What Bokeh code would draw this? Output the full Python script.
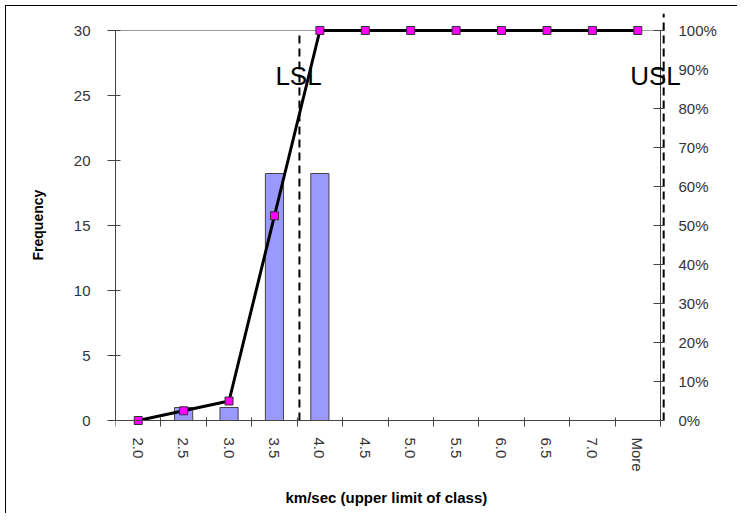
import math
from bokeh.plotting import figure
from bokeh.models import Range1d, LinearAxis, FixedTicker, Label, PrintfTickFormatter, Title
from bokeh.embed import file_html
from bokeh.resources import INLINE

# ---- data ----
classes = ["2.0", "2.5", "3.0", "3.5", "4.0", "4.5", "5.0", "5.5", "6.0", "6.5", "7.0", "More"]
frequency = [0, 1, 1, 19, 19, 0, 0, 0, 0, 0, 0, 0]
cumulative_pct = [0, 2.5, 5, 52.5, 100, 100, 100, 100, 100, 100, 100, 100]
freq_ticks = [0, 5, 10, 15, 20, 25, 30]
pct_ticks = [0, 10, 20, 30, 40, 50, 60, 70, 80, 90, 100]
spec_names = ["LSL", "USL"]
spec_pos = [4.05, 12.07]        # position in class-index units
spec_top = [29.8, 31.3]         # top of the dashed limit lines (frequency units)
spec_label_pos = [4.03, 11.89]
spec_label_y = 26.5

N = len(classes)
FREQ_MAX = 30

# ---- layout (pixels) ----
LEFT, TOP = 115, 13
PLOT_W = 545                    # width of the class area
FRAME_W = 622
ZERO_Y = 420                    # pixel row of frequency 0
FRAME_BOTTOM = 478
FRAME_H = FRAME_BOTTOM - TOP
PX_PER_UNIT = (ZERO_Y - 30) / FREQ_MAX
X_END = FRAME_W / (PLOT_W / N)
Y_END = (ZERO_Y - TOP) / PX_PER_UNIT
Y_START = -(FRAME_BOTTOM - ZERO_Y) / PX_PER_UNIT

centers = [i + 0.5 for i in range(N)]
bounds_ticks = list(range(N + 1))

FONT = "Liberation Sans"
TXT = "#333333"
AX = "#444444"

p = figure(
    frame_width=FRAME_W, frame_height=FRAME_H,
    min_border_left=LEFT, min_border_right=0, min_border_top=TOP, min_border_bottom=509 - FRAME_BOTTOM,
    x_range=Range1d(0, X_END), y_range=Range1d(Y_START, Y_END),
    output_backend="svg", toolbar_location=None,
    outline_line_color=None, background_fill_color="white",
    border_fill_color=None,
)
p.extra_y_ranges = {"pct": Range1d(Y_START / FREQ_MAX * 100, Y_END / FREQ_MAX * 100)}
p.styles = {"box-shadow": "inset 5px 5px 0 0 white, inset 6px 6px 0 0 black"}

# grid: only the top line at 30
p.xgrid.visible = False
p.ygrid.ticker = FixedTicker(ticks=[FREQ_MAX])
p.ygrid.grid_line_color = "#9a9a9a"
p.ygrid.grid_line_width = 1
try:
    p.ygrid.cross_bounds = (0, N)
except Exception:
    pass

# bars
p.vbar(x=centers, top=frequency, width=0.4, bottom=0,
       fill_color="#9999FF", line_color="#444444", line_width=1)

# LSL / USL labels
for name, lx in zip(spec_names, spec_label_pos):
    p.add_layout(Label(x=lx, y=spec_label_y, text=name, text_font=FONT,
                       text_font_size="26px", text_color="black",
                       text_align="center", text_baseline="middle"))

# dashed limit lines
p.segment(x0=spec_pos, y0=[0, 0], x1=spec_pos, y1=spec_top,
          line_color="black", line_width=2, line_dash="8 5")

# cumulative line
p.line(centers, cumulative_pct, y_range_name="pct", line_color="black", line_width=3)
p.scatter(centers, cumulative_pct, y_range_name="pct", marker="square", size=8,
          fill_color="#FF00FF", line_color="#333333", line_width=1)

# x axis (at frequency 0)
xa = p.xaxis[0]
xa.fixed_location = 0
xa.ticker = FixedTicker(ticks=centers, minor_ticks=bounds_ticks)
xa.bounds = (0, N)
xa.major_label_overrides = {c: lab for c, lab in zip(centers, classes)}
xa.major_label_orientation = -math.pi / 2
xa.major_tick_line_color = None
xa.major_tick_in = 0
xa.major_tick_out = 6
xa.minor_tick_in = 3
xa.minor_tick_out = 6
xa.minor_tick_line_color = AX
xa.axis_line_color = AX
xa.major_label_standoff = 11
xa.major_label_text_font = FONT
xa.major_label_text_font_size = "15px"
xa.major_label_text_color = TXT

# left axis
ya = p.yaxis[0]
ya.ticker = FixedTicker(ticks=freq_ticks)
ya.bounds = (0, FREQ_MAX)
ya.minor_tick_line_color = None
ya.major_tick_in = 5
ya.major_tick_out = 8
ya.major_tick_line_color = AX
ya.axis_line_color = AX
ya.major_label_standoff = 17
ya.major_label_text_font = FONT
ya.major_label_text_font_size = "15px"
ya.major_label_text_color = TXT

# right axis (drawn at the end of the class area)
ra = LinearAxis(y_range_name="pct", ticker=FixedTicker(ticks=pct_ticks),
                formatter=PrintfTickFormatter(format="%d%%"), bounds=(0, 100),
                fixed_location=N)
ra.minor_tick_line_color = None
ra.major_tick_in = 7
ra.major_tick_out = 4
ra.major_tick_line_color = AX
ra.axis_line_color = AX
ra.major_label_standoff = 14
ra.major_label_text_font = FONT
ra.major_label_text_font_size = "15px"
ra.major_label_text_color = TXT
p.add_layout(ra, "right")

# axis titles
ytitle = Title(text="Frequency", align="left", offset=218, standoff=49,
               text_font=FONT, text_font_style="bold", text_font_size="14px",
               text_color="black")
p.add_layout(ytitle, "left")
xtitle = Title(text="km/sec (upper limit of class)", align="left", offset=170, standoff=16,
               text_font=FONT, text_font_style="bold", text_font_size="15px",
               text_color="black")
p.add_layout(xtitle, "below")

open("out.html", "w").write(file_html(p, INLINE))
